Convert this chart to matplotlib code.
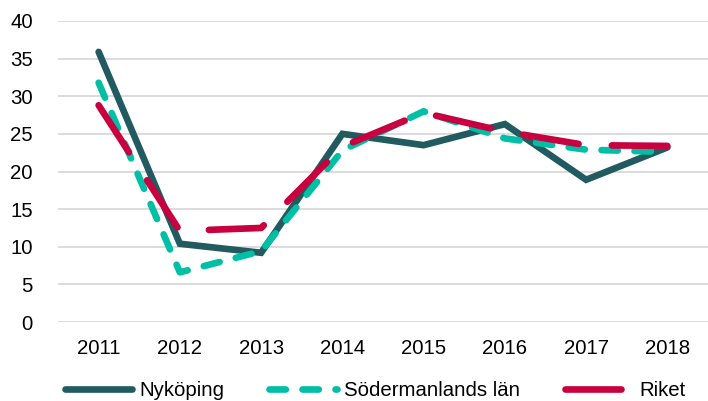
import matplotlib
matplotlib.use('Agg')
from matplotlib import pyplot as plt

# Data
years = ['2011', '2012', '2013', '2014', '2015', '2016', '2017', '2018']
nykoping = [35.9, 10.4, 9.2, 25.0, 23.5, 26.3, 18.9, 23.2]
sodermanland = [31.8, 6.6, 9.4, 22.8, 28.0, 24.4, 22.9, 22.6]
riket = [28.8, 12.1, 12.5, 23.3, 27.8, 25.3, 23.5, 23.4]

plt.rcParams['font.family'] = ['Liberation Sans', 'DejaVu Sans']
fs = 14.7

fig = plt.figure(figsize=(7.08, 4.01), dpi=100)
ax = fig.add_axes([58/708, 1 - 322/401, 1 - 58/708, (322 - 21)/401])

x = range(len(years))
lw = 4.8
ax.plot(x, nykoping, color='#215B60', lw=lw, solid_capstyle='round',
        solid_joinstyle='miter', label='Nyköping', zorder=3)
ax.plot(x, sodermanland, color='#00BFA5', lw=lw, dashes=(2.45, 2.5),
        dash_capstyle='round', label='Södermanlands län', zorder=4)
ax.plot(x, riket, color='#C8003F', lw=lw, dashes=(8.4, 5.0),
        dash_capstyle='round', label='Riket', zorder=5)

# Format the plot
ax.set_xlim(-0.5, len(years) - 0.5)
ax.set_ylim(0, 40)
ax.set_yticks(range(0, 41, 5))
ax.set_xticks(list(x))
ax.set_xticklabels(years)
ax.yaxis.grid(True, color='#D9D9D9', lw=1.3)
ax.set_axisbelow(True)
for s in ax.spines.values():
    s.set_visible(False)
ax.tick_params(length=0, labelsize=fs, colors='black')
ax.tick_params(axis='x', pad=12)
ax.tick_params(axis='y', pad=18)

fig.legend(loc='center left', bbox_to_anchor=(65/708, 1 - 391/401), ncol=3,
           frameon=False, fontsize=fs, handlelength=3.3, handletextpad=0.35,
           columnspacing=2.2, borderpad=0, borderaxespad=0)

fig.savefig('out.png', dpi=100)
